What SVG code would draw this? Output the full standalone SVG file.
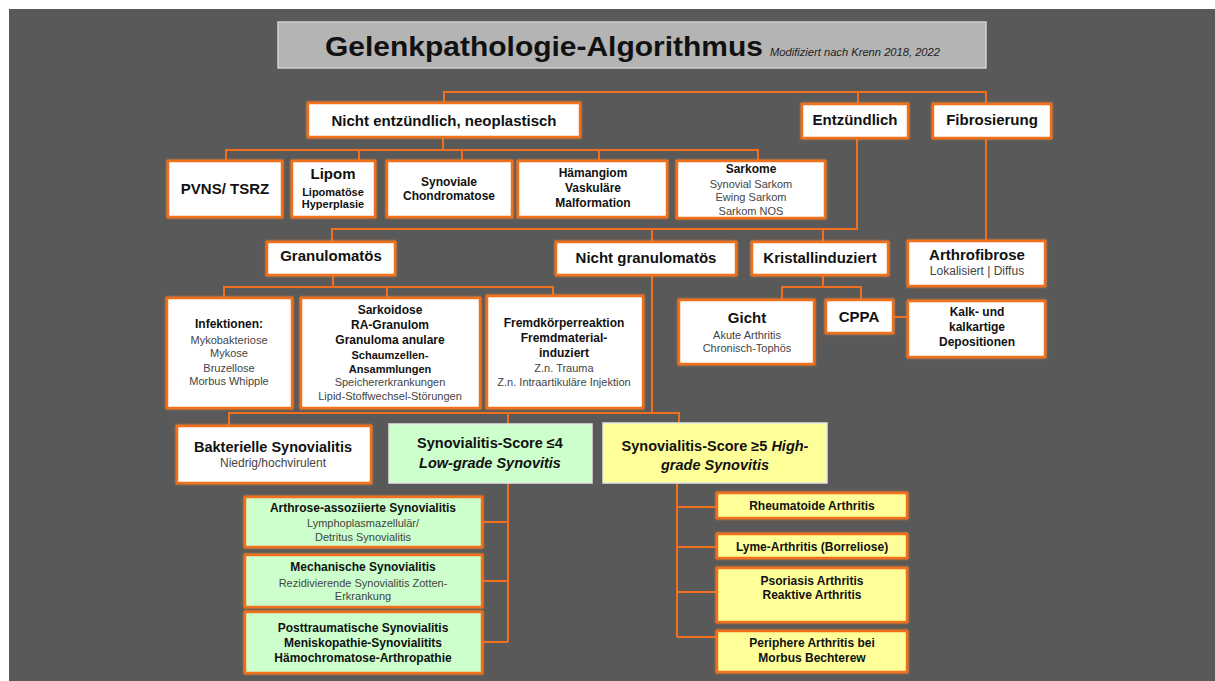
<svg xmlns="http://www.w3.org/2000/svg" width="1215" height="681" viewBox="0 0 1215 681">
<defs>
<filter id="glow" x="-10%" y="-20%" width="120%" height="140%">
<feDropShadow dx="0" dy="0" stdDeviation="0.9" flood-color="#ff8a33" flood-opacity="0.9"/>
</filter>
</defs>
<style>
.bg{fill:#595959}
.bx{fill:#ffffff;stroke:#f26f1f;stroke-width:2.5;filter:url(#glow)}
.gr{fill:#ccffcc}
.ye{fill:#ffff99}
.sc{stroke:#e6e6e6;stroke-width:1.5}
.ln{fill:none;stroke:#f26f1f;stroke-width:2}
text{font-family:"Liberation Sans",Arial,sans-serif;text-anchor:middle}
.h{font-size:15px;font-weight:bold;fill:#111}
.b{font-size:12px;font-weight:bold;fill:#111}
.s{font-size:11px;font-weight:bold;fill:#111}
.r{font-size:11px;fill:#444}
.r12{font-size:12px;fill:#444}
.i{font-style:italic}
</style>
<rect x="0" y="0" width="1215" height="681" fill="#ffffff"/>
<rect class="bg" x="9" y="9" width="1206" height="672"/>

<g id="title">
<rect x="278" y="22" width="708" height="46" fill="#b4b4b4" stroke="#d0d0d0" stroke-width="1.5"/>
<text x="325" y="56" textLength="438" lengthAdjust="spacingAndGlyphs" style="text-anchor:start;font-size:28px;font-weight:bold;fill:#111">Gelenkpathologie-Algorithmus</text>
<text x="770" y="56" textLength="170" lengthAdjust="spacingAndGlyphs" style="text-anchor:start;font-size:10px;font-style:italic;fill:#222">Modifiziert  nach Krenn 2018,  2022</text>
</g>

<g id="connectors">
<path class="ln" d="M444,103 V92 H986 V104 M858,92 V104"/>
<path class="ln" d="M443,137 V150 M226,161 V150 H758 V161 M359,150 V161 M462,150 V161 M599,150 V161"/>
<path class="ln" d="M857,138 V229 H332 V242 M652,229 V242 M823,229 V242"/>
<path class="ln" d="M986,138 V241"/>
<path class="ln" d="M333,275 V287 M224,298 V287 H553 V296 M387,287 V298"/>
<path class="ln" d="M823,275 V287 M782,300 V287 H861 V300"/>
<path class="ln" d="M893,317 H908"/>
<path class="ln" d="M652,275 V413 M229,426 V413 H679 V423 M508,413 V424"/>
<path class="ln" d="M508,483 V642 M482,522 H508 M482,581 H508 M482,642 H508"/>
<path class="ln" d="M677,483 V637 M677,507 H717 M677,547 H717 M677,592 H717 M677,637 H717"/>
</g>

<g id="n-nicht-entz">
<rect class="bx" x="308" y="103" width="272" height="34"/>
<text class="h" x="444" y="126">Nicht entzündlich, neoplastisch</text>
</g>
<g id="n-entz">
<rect class="bx" x="802" y="104" width="106" height="34"/>
<text class="h" x="855" y="125">Entzündlich</text>
</g>
<g id="n-fibro">
<rect class="bx" x="933" y="104" width="118" height="34"/>
<text class="h" x="992" y="125">Fibrosierung</text>
</g>

<g id="n-pvns">
<rect class="bx" x="168" y="161" width="114" height="56"/>
<text class="h" x="225" y="194">PVNS/ TSRZ</text>
</g>
<g id="n-lipom">
<rect class="bx" x="292" y="161" width="83" height="56"/>
<text class="h" x="333" y="179">Lipom</text>
<text class="s" x="333" y="196">Lipomatöse</text>
<text class="s" x="333" y="208">Hyperplasie</text>
</g>
<g id="n-synoviale">
<rect class="bx" x="387" y="161" width="125" height="56"/>
<text class="b" x="449" y="186">Synoviale</text>
<text class="b" x="449" y="200">Chondromatose</text>
</g>
<g id="n-haemangiom">
<rect class="bx" x="518" y="161" width="149" height="56"/>
<text class="b" x="593" y="177">Hämangiom</text>
<text class="b" x="593" y="192">Vaskuläre</text>
<text class="b" x="593" y="207">Malformation</text>
</g>
<g id="n-sarkome">
<rect class="bx" x="677" y="161" width="148" height="57"/>
<text class="b" x="751" y="173">Sarkome</text>
<text class="r" x="751" y="188">Synovial  Sarkom</text>
<text class="r" x="751" y="201">Ewing Sarkom</text>
<text class="r" x="751" y="215">Sarkom NOS</text>
</g>

<g id="n-granulomatoes">
<rect class="bx" x="267" y="242" width="128" height="33"/>
<text class="h" x="331" y="261">Granulomatös</text>
</g>
<g id="n-nicht-granulomatoes">
<rect class="bx" x="556" y="242" width="180" height="33"/>
<text class="h" x="646" y="263">Nicht granulomatös</text>
</g>
<g id="n-kristall">
<rect class="bx" x="752" y="242" width="136" height="33"/>
<text class="h" x="820" y="263">Kristallinduziert</text>
</g>
<g id="n-arthrofibrose">
<rect class="bx" x="908" y="241" width="137" height="45"/>
<text class="h" x="977" y="260">Arthrofibrose</text>
<text class="r12" x="977" y="275">Lokalisiert | Diffus</text>
</g>

<g id="n-infektionen">
<rect class="bx" x="167" y="298" width="125" height="110"/>
<text class="b" x="229" y="328">Infektionen:</text>
<text class="r" x="229" y="344">Mykobakteriose</text>
<text class="r" x="229" y="357">Mykose</text>
<text class="r" x="229" y="372">Bruzellose</text>
<text class="r" x="229" y="385">Morbus  Whipple</text>
</g>
<g id="n-sarkoidose">
<rect class="bx" x="301" y="298" width="179" height="110"/>
<text class="b" x="390" y="314">Sarkoidose</text>
<text class="b" x="390" y="329">RA-Granulom</text>
<text class="b" x="390" y="344">Granuloma anulare</text>
<text class="s" x="390" y="359">Schaumzellen-</text>
<text class="s" x="390" y="373">Ansammlungen</text>
<text class="r" x="390" y="386">Speichererkrankungen</text>
<text class="r" x="390" y="400">Lipid-Stoffwechsel-Störungen</text>
</g>
<g id="n-fremdkoerper">
<rect class="bx" x="487" y="296" width="156" height="112"/>
<text class="b" x="564" y="327">Fremdkörperreaktion</text>
<text class="b" x="564" y="342">Fremdmaterial-</text>
<text class="b" x="564" y="357">induziert</text>
<text class="r" x="564" y="372">Z.n.  Trauma</text>
<text class="r" x="564" y="386">Z.n.  Intraartikuläre  Injektion</text>
</g>

<g id="n-gicht">
<rect class="bx" x="679" y="300" width="135" height="64"/>
<text class="h" x="747" y="323">Gicht</text>
<text class="r" x="747" y="339">Akute  Arthritis</text>
<text class="r" x="747" y="352">Chronisch-Tophös</text>
</g>
<g id="n-cppa">
<rect class="bx" x="826" y="300" width="67" height="33"/>
<text class="h" x="859" y="322">CPPA</text>
</g>
<g id="n-kalk">
<rect class="bx" x="908" y="301" width="137" height="56"/>
<text class="b" x="977" y="316">Kalk-  und</text>
<text class="b" x="977" y="331">kalkartige</text>
<text class="b" x="977" y="346">Depositionen</text>
</g>

<g id="n-bakterielle">
<rect class="bx" x="177" y="426" width="194" height="57"/>
<text class="h" x="273" y="452" style="font-size:14.5px">Bakterielle  Synovialitis</text>
<text class="r12" x="273" y="467">Niedrig/hochvirulent</text>
</g>
<g id="n-lowgrade">
<rect class="gr sc" x="389" y="424" width="203" height="59"/>
<text class="h" x="490" y="448" style="font-size:14.5px">Synovialitis-Score  ≤4</text>
<text class="h i" x="490" y="468" style="font-size:14.5px">Low-grade Synovitis</text>
</g>
<g id="n-highgrade">
<rect class="ye sc" x="603" y="423" width="224" height="60"/>
<text class="h" x="715" y="451" style="font-size:14.5px">Synovialitis-Score ≥5 <tspan font-style="italic">High-</tspan></text>
<text class="h i" x="715" y="470" style="font-size:14.5px">grade Synovitis</text>
</g>

<g id="n-arthrose">
<rect class="bx gr" x="245" y="497" width="237" height="50"/>
<text class="b" x="363" y="512">Arthrose-assoziierte  Synovialitis</text>
<text class="r" x="363" y="527">Lymphoplasmazellulär/</text>
<text class="r" x="363" y="541">Detritus  Synovialitis</text>
</g>
<g id="n-mechanische">
<rect class="bx gr" x="245" y="555" width="237" height="52"/>
<text class="b" x="363" y="571">Mechanische  Synovialitis</text>
<text class="r" x="363" y="587">Rezidivierende  Synovialitis  Zotten-</text>
<text class="r" x="363" y="600">Erkrankung</text>
</g>
<g id="n-posttraumatische">
<rect class="bx gr" x="245" y="612" width="237" height="61"/>
<text class="b" x="363" y="632">Posttraumatische  Synovialitis</text>
<text class="b" x="363" y="647">Meniskopathie-Synovialitits</text>
<text class="b" x="363" y="662">Hämochromatose-Arthropathie</text>
</g>

<g id="n-rheumatoide">
<rect class="bx ye" x="717" y="493" width="190" height="25"/>
<text class="b" x="812" y="510">Rheumatoide  Arthritis</text>
</g>
<g id="n-lyme">
<rect class="bx ye" x="717" y="534" width="190" height="24"/>
<text class="b" x="812" y="551">Lyme-Arthritis  (Borreliose)</text>
</g>
<g id="n-psoriasis">
<rect class="bx ye" x="717" y="568" width="190" height="54"/>
<text class="b" x="812" y="585">Psoriasis  Arthritis</text>
<text class="b" x="812" y="599">Reaktive  Arthritis</text>
</g>
<g id="n-periphere">
<rect class="bx ye" x="717" y="631" width="190" height="41"/>
<text class="b" x="812" y="647">Periphere  Arthritis  bei</text>
<text class="b" x="812" y="662">Morbus  Bechterew</text>
</g>
</svg>
